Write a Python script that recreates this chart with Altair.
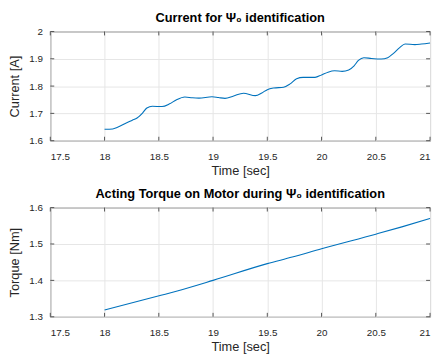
import altair as alt
import pandas as pd

# Current data
cur_t = [18.0, 18.075, 18.12, 18.2, 18.256, 18.30, 18.35, 18.39, 18.44, 18.53, 18.60, 18.66,
         18.74, 18.81, 18.87, 18.99, 19.05, 19.11, 19.19, 19.28, 19.39, 19.45, 19.5, 19.56,
         19.65, 19.71, 19.77, 19.83, 19.94, 20.0, 20.06, 20.12, 20.19, 20.25, 20.30, 20.34,
         20.39, 20.46, 20.55, 20.61, 20.66, 20.72, 20.77, 20.86, 20.92, 21.0]
cur_v = [1.642, 1.643, 1.649, 1.665, 1.675, 1.683, 1.701, 1.720, 1.726, 1.725, 1.735, 1.749,
         1.760, 1.757, 1.756, 1.761, 1.758, 1.755, 1.764, 1.774, 1.765, 1.775, 1.787, 1.793,
         1.796, 1.808, 1.827, 1.832, 1.832, 1.841, 1.851, 1.856, 1.854, 1.859, 1.874, 1.894,
         1.904, 1.901, 1.899, 1.904, 1.919, 1.941, 1.954, 1.952, 1.954, 1.958]

# Torque data
tq_t = [18.0, 18.52, 18.67, 19.0, 19.5, 19.73, 20.0, 20.5, 20.74, 21.0]
tq_v = [1.3186, 1.359, 1.371, 1.400, 1.446, 1.464, 1.487, 1.527, 1.547, 1.570]

x_ticks = [17.5, 18, 18.5, 19, 19.5, 20, 20.5, 21]
cur_ticks = [1.6, 1.7, 1.8, 1.9, 2.0]
tq_ticks = [1.3, 1.4, 1.5, 1.6]

df_cur = pd.DataFrame({"t": cur_t, "v": cur_v})
df_tq = pd.DataFrame({"t": tq_t, "v": tq_v})

FONT = "Liberation Sans"
LINE = "#0072BD"
FRAME = "#555555"
W, H, TL = 386, 111, 4


def panel(df, title, ytitle, ydom, yticks):
    xs = alt.Scale(domain=[17.5, 21], nice=False, zero=False)
    ys = alt.Scale(domain=ydom, nice=False, zero=False)
    ax = alt.Axis(values=x_ticks, title="Time [sec]", format="")
    ay = alt.Axis(values=yticks, title=ytitle, format="")
    dx = pd.DataFrame({"t": x_ticks})
    dy = pd.DataFrame({"v": yticks})
    X = alt.X("t:Q", scale=xs, axis=ax)
    Y = alt.Y("v:Q", scale=ys, axis=ay)
    line = alt.Chart(df).mark_line(color=LINE, strokeWidth=1.1, interpolate="monotone").encode(x=X, y=Y)
    xb = alt.Chart(dx).mark_rule(color=FRAME, strokeWidth=1).encode(
        x=X, y=alt.value(H), y2=alt.value(H - TL))
    xt = alt.Chart(dx).mark_rule(color=FRAME, strokeWidth=1).encode(
        x=X, y=alt.value(0), y2=alt.value(TL))
    yl = alt.Chart(dy).mark_rule(color=FRAME, strokeWidth=1).encode(
        y=Y, x=alt.value(0), x2=alt.value(TL))
    yr = alt.Chart(dy).mark_rule(color=FRAME, strokeWidth=1).encode(
        y=Y, x=alt.value(W - TL), x2=alt.value(W))
    return alt.layer(line, xb, xt, yl, yr).properties(
        width=W, height=H,
        title=alt.TitleParams(title, fontSize=13, font=FONT, fontWeight="bold", color="#000000", offset=2),
    )


top = panel(df_cur, "Current for Ψ₀ identification", "Current [A]", [1.6, 2.0], cur_ticks)
bot = panel(df_tq, "Acting Torque on Motor during Ψ₀ identification", "Torque [Nm]", [1.3, 1.6], tq_ticks)

chart = alt.vconcat(top, bot, spacing=9).properties(
    padding={"left": 0, "top": 0, "right": 0, "bottom": 0},
    background="white",
).configure_view(
    stroke=FRAME, strokeWidth=1
).configure_axis(
    domain=False, ticks=False, grid=True, gridColor="#e5e5e5", gridWidth=1,
    labelFont=FONT, labelFontSize=10, labelColor="#262626",
    titleFont=FONT, titleFontSize=13, titleFontWeight="normal", titleColor="#262626",
).configure_axisX(
    labelPadding=11, titlePadding=3,
).configure_axisY(
    labelPadding=8, titlePadding=7,
)

chart.save("out.html", embed_options={"renderer": "svg", "actions": False})
